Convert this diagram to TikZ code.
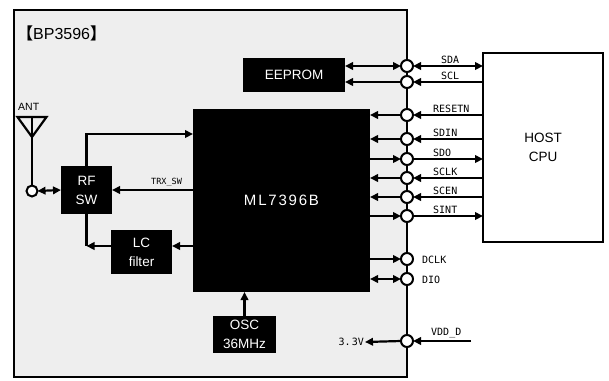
\documentclass[tikz,border=0pt]{standalone}
\usepackage{fontspec}
\setmainfont{Liberation Sans}
\newfontfamily\monofont{DejaVu Sans Mono}
\newfontfamily\cjkfont{Noto Sans CJK JP}
\usetikzlibrary{arrows.meta,calc}
\definecolor{bggray}{HTML}{EEEEEE}
\begin{document}
\begin{tikzpicture}[x=1pt,y=-1pt,
  conn/.style={line width=2.2pt,line cap=butt},
  tip/.style={-{Triangle[length=8pt,width=7.5pt]}},
  btip/.style={{Triangle[length=8pt,width=7.5pt]}-{Triangle[length=8pt,width=7.5pt]}},
  blk/.style={fill=black,text=white,inner sep=0pt,outer sep=0pt,align=center,font=\fontsize{13.5}{19}\selectfont},
  pin/.style={circle,draw=black,fill=white,line width=2pt,minimum size=12pt,inner sep=0pt,outer sep=0pt},
  sig/.style={font=\monofont\fontsize{10}{10}\selectfont,inner sep=0pt,anchor=south west},
  sigr/.style={font=\monofont\fontsize{10}{10}\selectfont,inner sep=0pt,anchor=west}]
\useasboundingbox (0,0) rectangle (609,380);
\fill[white] (0,0) rectangle (609,380);
% outer frame
\node[draw=black,fill=bggray,line width=2.2pt,minimum width=393pt,minimum height=367pt,inner sep=0pt,outer sep=0pt] (bp) at (210.5,193.5) {};
\node[anchor=west,inner sep=0pt,font=\fontsize{16}{18}\selectfont] (title) at (17,33) {{\cjkfont\bfseries 【}BP3596{\cjkfont\bfseries 】}};
% blocks
\node[blk,minimum width=102pt,minimum height=34pt] (eeprom) at (294,75) {EEPROM};
\node[blk,minimum width=177pt,minimum height=183pt] (ml) at (281.5,200.5) {\addfontfeature{LetterSpace=12}\fontsize{15}{18}\selectfont ML7396B};
\node[blk,minimum width=51pt,minimum height=48pt] (rfsw) at (86.5,190) {RF\\SW};
\node[blk,minimum width=61pt,minimum height=44pt] (lc) at (141.5,252) {LC\\filter};
\node[blk,minimum width=63pt,minimum height=37pt] (osc) at (244.5,334.5) {OSC\\36MHz};
\node[draw=black,fill=white,line width=1.8pt,minimum width=120pt,minimum height=189pt,inner sep=0pt,outer sep=0pt,align=center,font=\fontsize{13.5}{19}\selectfont] (host) at (543,147.5) {HOST\\CPU};
% pins
\node[pin] (cSDA) at (407,66) {};
\node[pin] (cSCL) at (407,82) {};
\node[pin] (cRST) at (407,115) {};
\node[pin] (cSDIN) at (407,139) {};
\node[pin] (cSDO) at (407,159) {};
\node[pin] (cSCLK) at (407,178) {};
\node[pin] (cSCEN) at (407,197) {};
\node[pin] (cSINT) at (407,216) {};
\node[pin] (cDCLK) at (407,259) {};
\node[pin] (cDIO) at (407,279) {};
\node[pin] (cVDD) at (407,341) {};
% EEPROM connections
\draw[conn,btip] (eeprom.east |- cSDA) -- (cSDA.west);
\draw[conn,tip] (cSCL.west) -- (eeprom.east |- cSCL);
% host connections
\draw[conn,btip] (cSDA.east) -- (host.west |- cSDA);
\draw[conn,tip] (host.west |- cSCL) -- (cSCL.east);
\draw[conn,tip] (host.west |- cRST) -- (cRST.east);
\draw[conn,tip] (host.west |- cSDIN) -- (cSDIN.east);
\draw[conn,tip] (cSDO.east) -- (host.west |- cSDO);
\draw[conn,tip] (host.west |- cSCLK) -- (cSCLK.east);
\draw[conn,tip] (host.west |- cSCEN) -- (cSCEN.east);
\draw[conn,tip] (cSINT.east) -- (host.west |- cSINT);
% ML connections
\draw[conn,tip] (cRST.west) -- (ml.east |- cRST);
\draw[conn,tip] (cSDIN.west) -- (ml.east |- cSDIN);
\draw[conn,tip] (ml.east |- cSDO) -- (cSDO.west);
\draw[conn,tip] (cSCLK.west) -- (ml.east |- cSCLK);
\draw[conn,tip] (cSCEN.west) -- (ml.east |- cSCEN);
\draw[conn,tip] (ml.east |- cSINT) -- (cSINT.west);
\draw[conn,tip] (ml.east |- cDCLK) -- (cDCLK.west);
\draw[conn,btip] (ml.east |- cDIO) -- (cDIO.west);
% signal labels
\node[sig] (lSDA) at (441,63.5) {SDA};
\node[sig] (lSCL) at (441,79.5) {SCL};
\node[sig] (lRST) at (433,112.5) {RESETN};
\node[sig] (lSDIN) at (433,136.5) {SDIN};
\node[sig] (lSDO) at (433,156.5) {SDO};
\node[sig] (lSCLK) at (433,175.5) {SCLK};
\node[sig] (lSCEN) at (433,194.5) {SCEN};
\node[sig] (lSINT) at (433,213.5) {SINT};
\node[sigr] (lDCLK) at (422,260) {DCLK};
\node[sigr] (lDIO) at (422,280) {DIO};
% power
\coordinate (vddin) at (471,341);
\draw[conn,tip] (vddin) -- (cVDD.east);
\node[sig] (lVDD) at (431,338) {VDD\_D};
\node[font=\monofont\fontsize{10}{10}\selectfont,inner sep=1pt,anchor=east] (v33) at (365,342) {3.\hspace{1pt}3V};
\draw[conn,tip] (cVDD.west) -- (v33.east);
% antenna
\coordinate (antTop) at (32,117);
\coordinate (antL) at (17.5,117);
\coordinate (antR) at (46.5,117);
\coordinate (antApex) at (32,137);
\node[font=\fontsize{10.5}{11}\selectfont,inner sep=0pt,anchor=south west] (antlbl) at (18,111) {ANT};
\node[circle,draw=black,fill=white,line width=2pt,minimum size=11pt,inner sep=0pt,outer sep=0pt] (cANT) at (32,191) {};
\draw[conn,line join=miter] (antApex) -- (antL) -- (antR) -- cycle;
\draw[conn] (antTop) -- (cANT.north);
\draw[conn,btip] (cANT.east) -- (rfsw.west);
% RF SW to ML
\coordinate (k1) at (193,134);
\draw[conn,tip] (rfsw.north) |- (ml.west |- k1);
\draw[conn,tip] (ml.west |- rfsw.east) -- (rfsw.east);
\node[font=\monofont\fontsize{8.5}{9}\selectfont,inner sep=0pt,anchor=south west] (ltrx) at (151,187) {TRX\_SW};
% ML to LC filter to RF SW
\coordinate (k2) at (193,246);
\coordinate (corner) at (86.5,246);
\draw[conn,tip] (ml.west |- k2) -- (lc.east |- k2);
\draw[conn,tip] (lc.west |- k2) -- (corner);
\draw[conn] (rfsw.south) -- (corner);
% OSC
\draw[conn,tip] (osc.north) -- (osc.north |- ml.south);
\end{tikzpicture}
\end{document}
